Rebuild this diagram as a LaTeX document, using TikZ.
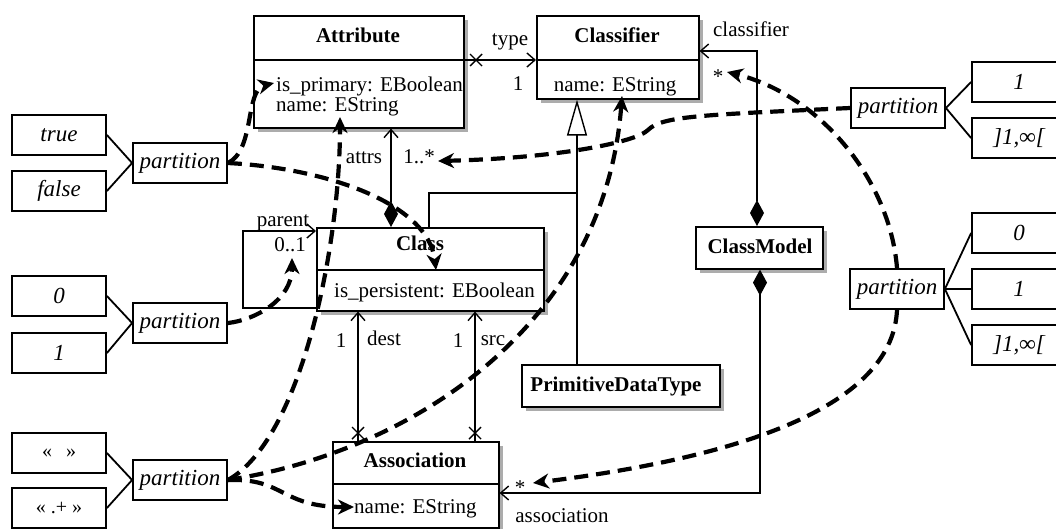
\documentclass[tikz,border=0pt]{standalone}
\usepackage{fontspec}
\setmainfont{Liberation Serif}
\usetikzlibrary{arrows.meta,calc,shadows}
\begin{document}
\begin{tikzpicture}[x=1pt,y=-1pt,
  every node/.style={font=\fontsize{21}{25}\selectfont, inner sep=0pt},
  umlbox/.style={draw, line width=1.6, fill=white, anchor=north west,
     drop shadow={shadow xshift=4pt, shadow yshift=-4pt, fill=gray!65, opacity=1}},
  divider/.style={line width=1.6},
  pbox/.style={draw, line width=1.8, fill=white, minimum width=94, minimum height=40,
     font=\fontsize{23}{26}\selectfont\itshape},
  gbox/.style={draw, line width=1.8, fill=white, minimum width=94, minimum height=40,
     font=\fontsize{20}{24}\selectfont},
  pline/.style={line width=1.8},
  assoc/.style={line width=1.4},
  ob/.style={-{Straight Barb[length=8,width=14]}},
  comp/.style={{Diamond[length=26,width=14]}-{Straight Barb[length=8,width=14]}},
  dep/.style={line width=4.2, dash pattern=on 14pt off 8pt,
     -{Stealth[length=16,width=15,inset=5]}},
]
\useasboundingbox (0,0) rectangle (1056,528);

% ---------- UML boxes ----------
\node[umlbox, minimum width=210, minimum height=112] (attr) at (253,15) {};
\node[umlbox, minimum width=162, minimum height=83] (clsf) at (536,15) {};
\node[umlbox, minimum width=227, minimum height=83] (cls) at (316,227) {};
\node[umlbox, minimum width=166, minimum height=86] (asc) at (332,441) {};
\node[umlbox, minimum width=198, minimum height=42] (pdt) at (521,364) {};
\node[umlbox, minimum width=127, minimum height=42] (cm) at (695,226) {};

\draw[divider] (attr.west |- 0,60) -- (attr.east |- 0,60);
\draw[divider] (clsf.west |- 0,60) -- (clsf.east |- 0,60);
\draw[divider] (cls.west |- 0,270) -- (cls.east |- 0,270);
\draw[divider] (asc.west |- 0,484) -- (asc.east |- 0,484);

\node[anchor=base] (attrT) at (358,42) {\textbf{Attribute}};
\node[anchor=base west] (attrA1) at (276,91) {is\_primary: EBoolean};
\node[anchor=base west] (attrA2) at (276,111) {name: EString};
\node[anchor=base] (clsfT) at (617,42) {\textbf{Classifier}};
\node[anchor=base] (clsfA) at (615,91) {name: EString};
\node[anchor=base] (clsT) at (420,250) {\textbf{Class}};
\node[anchor=base west] (clsA) at (334,297) {is\_persistent: EBoolean};
\node[anchor=base] (ascT) at (415,467) {\textbf{Association}};
\node[anchor=base west] (ascA) at (354,513) {name: EString};
\node[anchor=base] (pdtT) at (616,391) {\textbf{PrimitiveDataType}};
\node[anchor=base] (cmT) at (760,253) {\textbf{ClassModel}};

% ---------- UML connectors ----------
% type
\draw[assoc, ob] (attr.east |- 0,60) -- (clsf.west |- 0,60);
\draw[assoc] (476,60) +(-6,-6) -- +(6,6) +(-6,6) -- +(6,-6);
\node[anchor=base] (lType) at (510,45) {type};
\node[anchor=base] (lType1) at (518,90) {1};
% attrs
\draw[assoc, comp] (cls.north -| 391,0) -- (attr.south -| 391,0);
\node[anchor=base] (lAttrs) at (364,163) {attrs};
\node[anchor=base] (lAttrsM) at (419,163) {1..*};
% parent self loop
\draw[assoc, ob] (cls.west |- 0,308) -| (243,231) -- (cls.west |- 0,231);
\node[anchor=base] (lParent) at (283,226) {parent};
\node[anchor=base] (lParentM) at (290,251) {0..1};
% generalization
\draw[assoc] (cls.north -| 429,0) |- (577,193);
\draw[assoc, -{Triangle[open, length=36, width=20]}] (pdt.north -| 577,0) -- (clsf.south -| 577,0);
% dest / src
\draw[assoc, ob] (asc.north -| 358,0) -- (cls.south -| 358,0);
\draw[assoc] (358,433) +(-6,-6) -- +(6,6) +(-6,6) -- +(6,-6);
\draw[assoc, ob] (asc.north -| 475,0) -- (cls.south -| 475,0);
\draw[assoc] (475,433) +(-6,-6) -- +(6,6) +(-6,6) -- +(6,-6);
\node[anchor=base] (lDest1) at (341,347) {1};
\node[anchor=base] (lDest) at (384,345) {dest};
\node[anchor=base] (lSrc1) at (458,347) {1};
\node[anchor=base] (lSrc) at (493,345) {src};
% classifier / association compositions
\draw[assoc, comp] (cm.north -| 757,0) |- (clsf.east |- 0,51);
\draw[assoc, comp] (cm.south -| 760,0) |- (asc.east |- 0,493);
\node[anchor=base] (lClsf) at (751,36) {classifier};
\node[anchor=base] (lClsfS) at (718,83) {*};
\node[anchor=base] (lAscS) at (520,494) {*};
\node[anchor=base] (lAsc) at (562,522) {association};

% ---------- partitions ----------
\node[pbox] (pL1) at (180,163) {partition};
\node[pbox] (vTrue) at (59,135) {true};
\node[pbox] (vFalse) at (59,191) {false};
\draw[pline] (pL1.west) -- (vTrue.east) (pL1.west) -- (vFalse.east);

\node[pbox] (pL2) at (180,323) {partition};
\node[pbox] (v0) at (59,296) {0};
\node[pbox] (v1) at (59,353) {1};
\draw[pline] (pL2.west) -- (v0.east) (pL2.west) -- (v1.east);

\node[pbox] (pL3) at (180,480) {partition};
\node[gbox] (vEmpty) at (59,453) {«\hspace{14pt}»};
\node[gbox] (vAny) at (59,508) {« .+ »};
\draw[pline] (pL3.west) -- (vEmpty.east) (pL3.west) -- (vAny.east);

\node[pbox] (pR1) at (898,108) {partition};
\node[pbox] (vR1a) at (1019,82) {1};
\node[pbox] (vR1b) at (1019,138) {]1,∞[};
\draw[pline] (pR1.east) -- (vR1a.west) (pR1.east) -- (vR1b.west);

\node[pbox] (pR2) at (897,289) {partition};
\node[pbox] (vR2a) at (1019,233) {0};
\node[pbox] (vR2b) at (1019,289) {1};
\node[pbox] (vR2c) at (1019,345) {]1,∞[};
\draw[pline] (pR2.east) -- (vR2a.west) (pR2.east) -- (vR2b.west) (pR2.east) -- (vR2c.west);

% ---------- dependency targets ----------
\coordinate (tIsPrim) at (274,83);
\coordinate (tIsPers) at (436,270);
\coordinate (tParent) at (292,258);
\coordinate (tAttName) at (340,117);
\coordinate (tClsfName) at (622,96);
\coordinate (tAscName) at (354,507);
\coordinate (tAttrs) at (438,161);
\coordinate (tClsfStar) at (727,72);
\coordinate (tAscStar) at (533,483);

% ---------- dashed dependencies ----------
\draw[dep] (pL1.east) .. controls (255,150) and (245,90) .. (tIsPrim);
\draw[dep] (pL1.east) .. controls (325,168) and (428,203) .. (tIsPers);
\draw[dep] (pL2.east) .. controls (255,320) and (292,300) .. (tParent);
\draw[dep] (pL3.east) .. controls (300,440) and (340,250) .. (tAttName);
\draw[dep] (pL3.east) .. controls (420,450) and (605,320) .. (tClsfName);
\draw[dep] (pL3.east) .. controls (285,478) and (280,507) .. (tAscName);
\draw[dep] (pR1.west) .. controls (700,115) and (662,116) .. (648,130)
                      .. controls (636,142) and (560,158) .. (tAttrs);
\draw[dep] (pR2.north) .. controls (890,180) and (820,95) .. (tClsfStar);
\draw[dep] (pR2.south) .. controls (893,400) and (760,455) .. (tAscStar);
\end{tikzpicture}
\end{document}
